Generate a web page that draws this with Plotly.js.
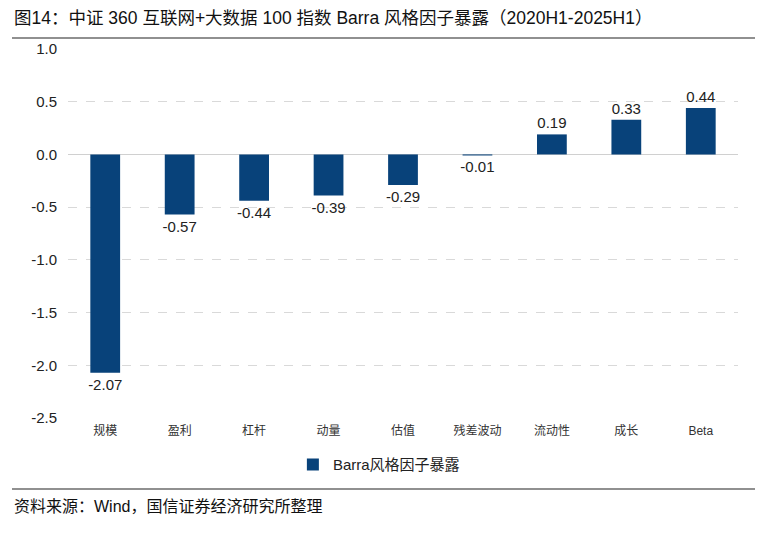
<!DOCTYPE html>
<html><head><meta charset="utf-8">
<script src="https://cdn.plot.ly/plotly-3.0.1.min.js"></script>
<style>body{margin:0;background:#fff}#c{width:784px;height:535px}</style>
</head><body><div id="c"></div>
<script>
const categories = ["规模","盈利","杠杆","动量","估值","残差波动","流动性","成长","Beta"];
const values = [-2.07,-0.57,-0.44,-0.39,-0.29,-0.01,0.19,0.33,0.44];
const seriesName = "Barra风格因子暴露";
const yTicks = [1.0,0.5,0.0,-0.5,-1.0,-1.5,-2.0,-2.5];
const FONT = "Arial, 'Liberation Sans', 'Noto Sans CJK SC', sans-serif";

const trace = {
  type: "bar", x: categories, y: values, name: seriesName,
  marker: {color: "#08427A"},
  text: values.map(v => v.toFixed(2)), textposition: "outside", constraintext: "none",
  textfont: {size: 15, color: "#222", family: FONT},
  cliponaxis: false, showlegend: true
};
const layout = {
  width: 784, height: 535,
  margin: {l: 68, r: 46, t: 49, b: 117},
  paper_bgcolor: "#fff", plot_bgcolor: "#fff",
  font: {family: FONT, color: "#222"},
  bargap: 0.6,
  xaxis: {tickfont: {size: 12, color: "#333"}, showgrid: false, showline: false, ticks: "", automargin: false, ticklabelstandoff: 4},
  yaxis: {range: [-2.5, 1.0], tickvals: yTicks, ticktext: yTicks.map(v => v.toFixed(1)),
    tickfont: {size: 15, color: "#222"}, showgrid: true, gridcolor: "#d9d9d9", griddash: "dash", gridwidth: 1,
    zeroline: true, zerolinecolor: "#d0d0d0", zerolinewidth: 1, showline: false, ticks: "", automargin: false, ticklabelstandoff: 10},
  showlegend: true,
  legend: {orientation: "h", x: 0.464, xanchor: "center", y: -0.127, yanchor: "middle",
    font: {size: 15, color: "#222"}, itemwidth: 10},
  annotations: [
    {text: "图14：中证 360 互联网+大数据 100 指数 Barra 风格因子暴露（2020H1-2025H1）", xref: "paper", yref: "paper",
     x: -0.0836, y: 1.084, xanchor: "left", yanchor: "middle", showarrow: false, font: {size: 17.5, color: "#111"}},
    {text: "资料来源：Wind，国信证券经济研究所整理", xref: "paper", yref: "paper",
     x: -0.0836, y: -0.241, xanchor: "left", yanchor: "middle", showarrow: false, font: {size: 16, color: "#111"}}
  ],
  shapes: [
    {type: "line", xref: "paper", yref: "paper", x0: -0.0836, x1: 1.0254, y0: 1.0298, y1: 1.0298, line: {color: "#222", width: 1.2}},
    {type: "line", xref: "paper", yref: "paper", x0: -0.0836, x1: 1.0254, y0: -0.1924, y1: -0.1924, line: {color: "#222", width: 1.2}}
  ]
};
Plotly.newPlot("c", [trace], layout, {displayModeBar: false, staticPlot: true});
</script></body></html>
